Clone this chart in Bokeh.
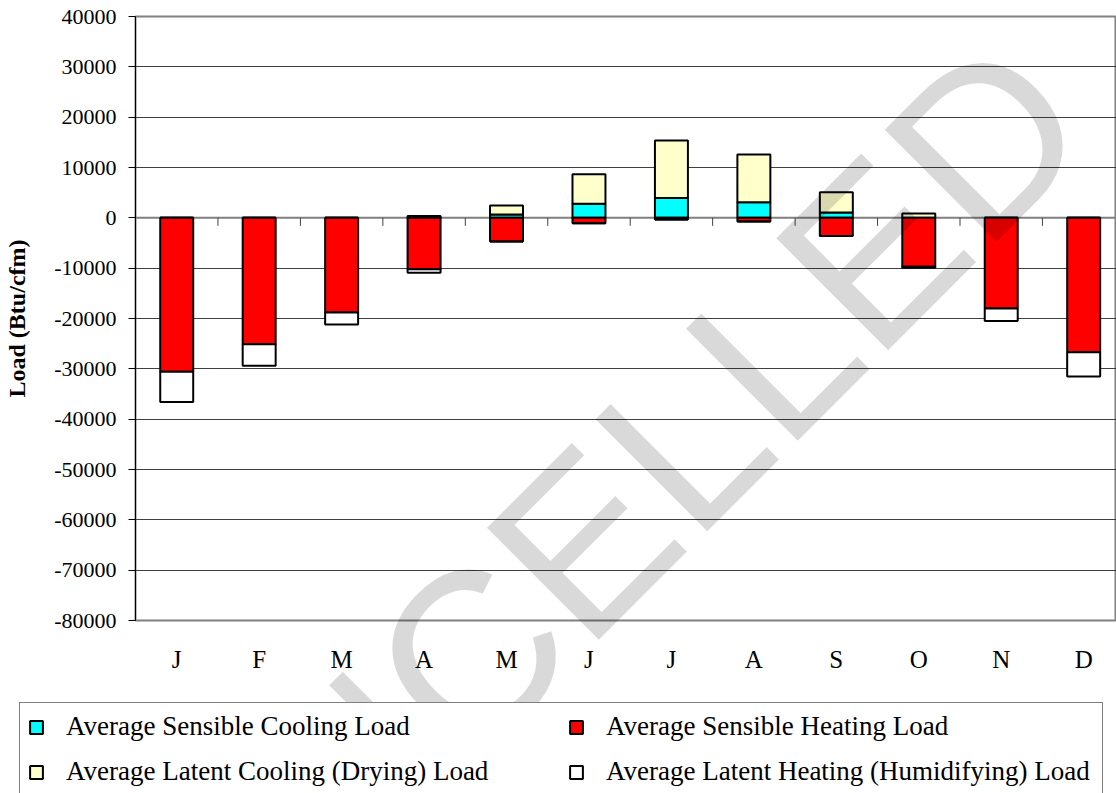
import numpy as np
from bokeh.plotting import figure
from bokeh.models import (Range1d, FixedTicker, BasicTickFormatter, Legend, LegendItem,
                          Label, Span, ColumnDataSource)
from bokeh.embed import file_html
from bokeh.resources import INLINE

# ---- data (Btu/cfm) ----
months = ["J", "F", "M", "A", "M", "J", "J", "A", "S", "O", "N", "D"]
sens_cool = [0, 0, 0, 120, 650, 2800, 3950, 3100, 1050, 0, 0, 0]
lat_cool = [0, 0, 0, 250, 1800, 5850, 11400, 9500, 4050, 850, 0, 0]
sens_heat = [30600, 25100, 18800, 10200, 4700, 1100, 350, 750, 3600, 9700, 18000, 26700]
lat_heat = [6000, 4300, 2400, 700, 0, 0, 0, 0, 0, 200, 2500, 4800]
y_ticks = list(range(-80000, 40001, 10000))
series_names = ["Average Sensible Cooling Load", "Average Sensible Heating Load",
                "Average Latent Cooling (Drying) Load", "Average Latent Heating (Humidifying) Load"]
series_colors = ["#00FFFF", "#FF0000", "#FFFFCC", "#FFFFFF"]

x = np.arange(len(months)) + 0.5
sc = np.array(sens_cool, dtype=float)
lc = np.array(lat_cool, dtype=float)
sh = np.array(sens_heat, dtype=float)
lh = np.array(lat_heat, dtype=float)

src = ColumnDataSource(dict(
    x=x,
    sc_b=np.zeros_like(sc), sc_t=sc,
    lc_b=sc, lc_t=sc + lc,
    sh_t=np.zeros_like(sh), sh_b=-sh,
    lh_t=-sh, lh_b=-sh - lh,
))
# (bottom, top) column pairs per series, same order as series_names
series_cols = [("sc_b", "sc_t"), ("sh_b", "sh_t"), ("lc_b", "lc_t"), ("lh_b", "lh_t")]

W, H = 1116, 793
left, top, frame_h = 135, 16, 604
y0, y1 = y_ticks[0], y_ticks[-1]
cat_px = 82.45
x_max = (W - left) / cat_px

p = figure(width=W, height=H, output_backend="svg", toolbar_location=None,
           x_range=Range1d(0, x_max), y_range=Range1d(y0, y1),
           min_border_left=left, min_border_right=0, min_border_top=top,
           min_border_bottom=H - top - frame_h,
           background_fill_color="white", border_fill_color="white")
p.outline_line_color = "#808080"
p.outline_line_width = 2

# grid
p.xgrid.visible = False
p.ygrid.ticker = FixedTicker(ticks=[t for t in y_ticks if t not in (y0, y1, 0)])
p.ygrid.grid_line_color = "#404040"
p.ygrid.grid_line_width = 1

# zero line (category axis) with ticks between categories
p.add_layout(Span(location=0, dimension="width", line_color="#808080",
                  line_width=2, level="underlay"))
tick_len = 8 * (y1 - y0) / frame_h
bounds = np.arange(1, len(months))
p.segment(x0=bounds, y0=np.zeros(len(bounds)), x1=bounds, y1=np.full(len(bounds), -tick_len),
          line_color="#404040", line_width=1)

bw = 0.4
draw_order = [0, 2, 1, 3]
for i in draw_order:
    b, t = series_cols[i]
    p.vbar(x="x", bottom=b, top=t, width=bw, source=src,
           fill_color=series_colors[i], line_color="black", line_width=2)

# y axis
ya = p.yaxis[0]
ya.ticker = FixedTicker(ticks=y_ticks)
ya.formatter = BasicTickFormatter(use_scientific=False)
ya.major_label_overrides = {float(t): str(t) for t in y_ticks}
ya.axis_line_color = "black"
ya.axis_line_width = 1
ya.major_tick_line_color = "black"
ya.major_tick_in = 0
ya.major_tick_out = 7
ya.minor_tick_line_color = None
ya.major_label_standoff = 12
ya.major_label_text_font = "Liberation Serif"
ya.major_label_text_font_size = "22px"
ya.major_label_text_color = "black"
ya.axis_label = "Load (Btu/cfm)"
ya.axis_label_text_font = "Liberation Serif"
ya.axis_label_text_font_style = "bold"
ya.axis_label_text_font_size = "24px"
ya.axis_label_text_color = "black"
ya.axis_label_standoff = 21

# x axis (month letters, no line/ticks)
xa = p.xaxis[0]
xa.ticker = FixedTicker(ticks=[float(v) for v in x])
xa.major_label_overrides = {float(v): m for v, m in zip(x, months)}
xa.axis_line_color = None
xa.major_tick_line_color = None
xa.minor_tick_line_color = None
xa.major_tick_out = 0
xa.major_tick_in = 0
xa.major_label_standoff = 25
xa.major_label_text_font = "Liberation Serif"
xa.major_label_text_font_size = "25px"
xa.major_label_text_color = "black"

# ---- transparent overlay (separate root): legend + watermark, not clipped to the plot frame ----
p2 = figure(width=W, height=H, output_backend="svg", toolbar_location=None, tools="",
            x_range=Range1d(0, W), y_range=Range1d(0, H),
            x_axis_location=None, y_axis_location=None, min_border=0,
            background_fill_alpha=0, border_fill_alpha=0, outline_line_color=None)
for g in p2.grid:
    g.visible = False
p2.styles = {"position": "absolute", "top": "0px", "left": "0px"}

key_r = []
for i, (b, t) in enumerate(series_cols):
    key_r.append(p2.vbar(x="x", bottom=b, top=t, width=bw, source=src, visible=False,
                         fill_color=series_colors[i], line_color="black", line_width=2))
legend = Legend(items=[LegendItem(label=n, renderers=[r]) for n, r in zip(series_names, key_r)],
                orientation="horizontal", ncols=2, location=(19, -3))
legend.label_text_font = "Liberation Serif"
legend.label_text_font_size = "27px"
legend.label_text_color = "black"
legend.label_width = 488
legend.glyph_width = 16
legend.glyph_height = 16
legend.label_standoff = 22
legend.spacing = 14
legend.padding = 8
legend.margin = 0
legend.border_line_color = "black"
legend.border_line_width = 1
legend.background_fill_color = "white"
legend.background_fill_alpha = 1
p2.add_layout(legend, "center")

p2.add_layout(Label(x=556, y=H - 569, text="CANCELLED", angle=45, angle_units="deg",
                    text_font="Liberation Sans", text_font_size="230px",
                    text_color="black", text_alpha=0.15,
                    text_align="center", text_baseline="middle"))

open("out.html", "w").write(file_html([p, p2], INLINE))
